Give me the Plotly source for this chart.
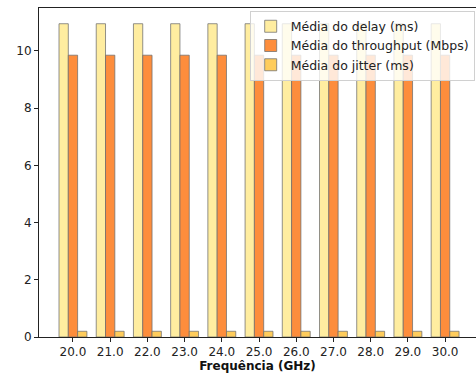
import plotly.graph_objects as go

freqs = [20.0, 21.0, 22.0, 23.0, 24.0, 25.0, 26.0, 27.0, 28.0, 29.0, 30.0]
tick_labels = ["20.0", "21.0", "22.0", "23.0", "24.0", "25.0", "26.0", "27.0", "28.0", "29.0", "30.0"]
delay = [10.95, 10.95, 10.95, 10.95, 10.95, 10.95, 10.95, 10.95, 10.95, 10.95, 10.95]
throughput = [9.85, 9.85, 9.85, 9.85, 9.85, 9.85, 9.85, 9.85, 9.85, 9.85, 9.85]
jitter = [0.2, 0.2, 0.2, 0.2, 0.2, 0.2, 0.2, 0.2, 0.2, 0.2, 0.2]

series = [
    ("Média do delay (ms)", delay, "#ffeda0"),
    ("Média do throughput (Mbps)", throughput, "#fd8d3c"),
    ("Média do jitter (ms)", jitter, "#fecc5c"),
]

fig = go.Figure()
for name, vals, color in series:
    fig.add_trace(go.Bar(
        x=freqs, y=vals, name=name,
        marker=dict(color=color, line=dict(color="rgba(110,110,110,0.75)", width=1)),
    ))

font = "DejaVu Sans"
fig.update_layout(
    width=476, height=376,
    margin=dict(l=39, r=0, t=8, b=39),
    paper_bgcolor="white", plot_bgcolor="white",
    font=dict(family=font, size=12, color="#222"),
    barmode="group", bargap=0.25, bargroupgap=0,
    showlegend=True,
    legend=dict(
        x=0.997, y=0.992, xanchor="right", yanchor="top",
        bgcolor="rgba(255,255,255,0.8)", bordercolor="#d0d0d0", borderwidth=1,
        font=dict(family=font, size=12.5, color="#222"),
        tracegroupgap=0, itemwidth=30,
    ),
    xaxis=dict(
        range=[19.0875, 30.83],
        tickvals=freqs, ticktext=tick_labels,
        showgrid=False, zeroline=False,
        showline=True, linecolor="#222", linewidth=1, mirror=True,
        ticks="outside", ticklen=4, tickcolor="#222",
        title=dict(text="<b>Frequência (GHz)</b>", font=dict(family=font, size=12, color="#111"), standoff=2),
    ),
    yaxis=dict(
        range=[0, 11.5],
        tickvals=[0, 2, 4, 6, 8, 10],
        showgrid=False, zeroline=False,
        showline=True, linecolor="#222", linewidth=1, mirror=False,
        ticks="outside", ticklen=4, tickcolor="#222",
    ),
)

fig.write_html(
    "out.html",
    config={"displayModeBar": False},
    post_script="document.body.style.margin='0';document.body.style.overflow='hidden';",
)
